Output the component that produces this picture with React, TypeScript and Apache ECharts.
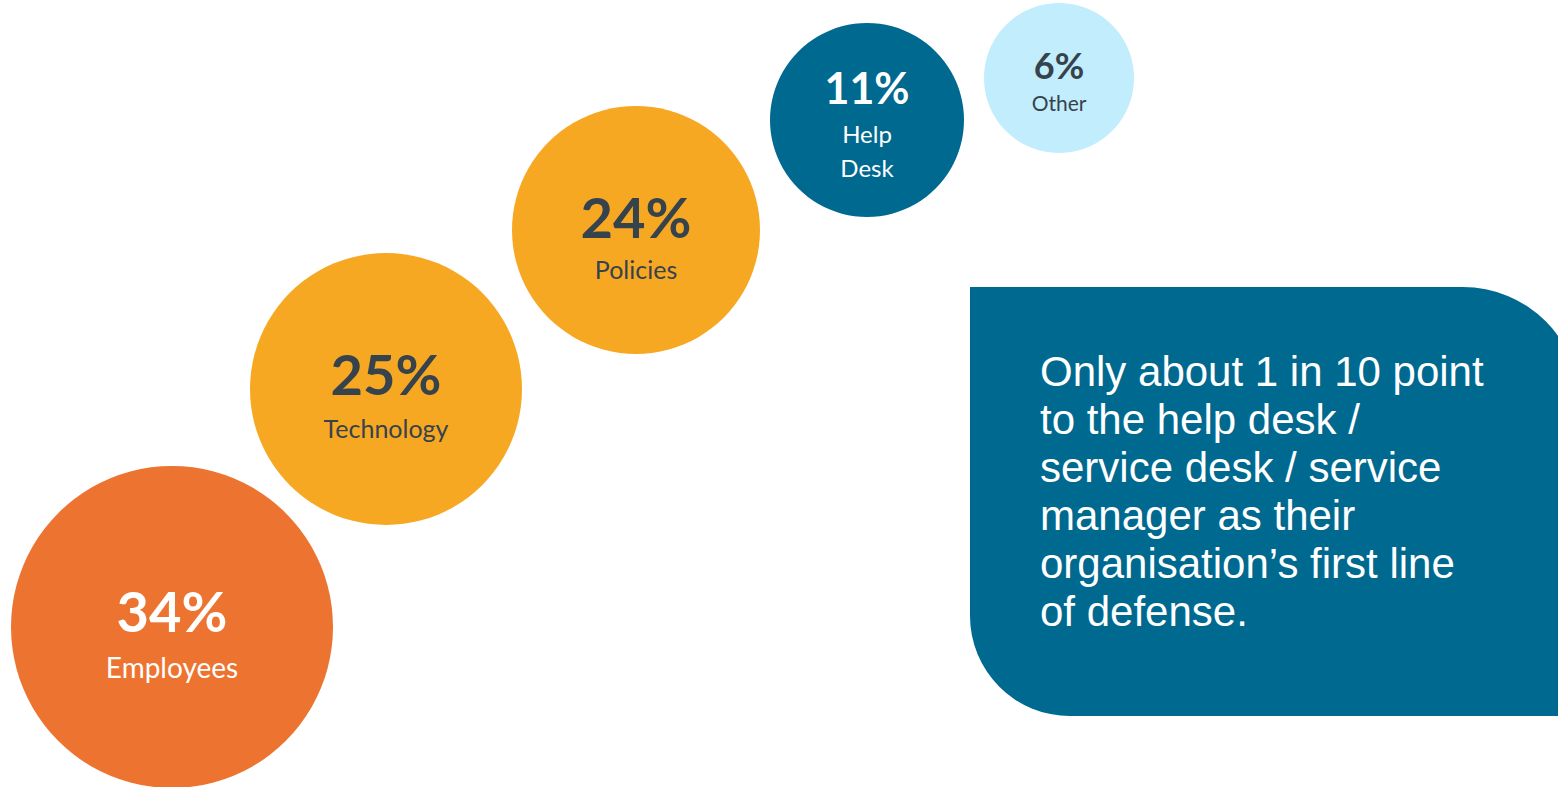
import React, { useEffect, useRef } from "react";
import * as echarts from "echarts";

// Data
const categories = ["Employees", "Technology", "Policies", "Help\nDesk", "Other"];
const values = [34, 25, 24, 11, 6];

// Layout (bubble placement in page units, diameters in px)
const bubbleX = [172, 386, 636, 867, 1059];
const bubbleY = [627, 389, 230, 120, 78];
const bubbleDiameter = [322, 272, 248, 194, 150];

// Styles
const bubbleColors = ["#ED7430", "#F7A823", "#F7A823", "#006990", "#C1EDFC"];
const textColors = ["#FFFFFF", "#36424C", "#36424C", "#FFFFFF", "#36424C"];
const valueFont = [56, 56, 56, 43, 36];
const valueLH = [60, 60, 60, 58, 44];
const nameFont = [28, 25, 25, 24, 21];
const nameLH = [54, 49, 46, 34, 32];
const labelOffset = [10, 9, 9, 1.5, 2.5];

const calloutText =
  "Only about 1 in 10 point\nto the help desk /\nservice desk / service\nmanager as their\norganisation\u2019s first line\nof defense.";

export default function App() {
  const ref = useRef<HTMLDivElement>(null);
  useEffect(() => {
    document.body.style.margin = "0";
    if (!ref.current) return;
    const chart = echarts.init(ref.current, null, { renderer: "svg" });
    const data = values.map((v, i) => ({
      value: [bubbleX[i], bubbleY[i], v],
      name: categories[i],
      itemStyle: { color: bubbleColors[i], opacity: 1 },
      label: {
        show: true,
        position: "inside",
        offset: [0, labelOffset[i]],
        formatter: () =>
          `{v|${v}%}\n` +
          categories[i]
            .split("\n")
            .map((s) => `{n|${s}}`)
            .join("\n"),
        rich: {
          v: {
            fontFamily: "Lato",
            fontWeight: "bold",
            fontSize: valueFont[i],
            lineHeight: valueLH[i],
            color: textColors[i],
            align: "center",
          },
          n: {
            fontFamily: "Lato",
            fontSize: nameFont[i],
            lineHeight: nameLH[i],
            color: textColors[i],
            align: "center",
          },
        },
      },
    }));
    chart.setOption({
      animation: false,
      backgroundColor: "#FFFFFF",
      grid: { left: 0, right: 0, top: 0, bottom: 0 },
      xAxis: { type: "value", min: 0, max: 1558, show: false },
      yAxis: { type: "value", min: 0, max: 787, inverse: true, show: false },
      series: [
        {
          type: "scatter",
          data,
          symbol: "circle",
          symbolSize: (_val: any, params: any) => bubbleDiameter[params.dataIndex],
          itemStyle: { opacity: 1 },
          emphasis: { disabled: true },
        },
      ],
      graphic: [
        {
          type: "rect",
          shape: { x: 970, y: 287, width: 610, height: 429, r: [0, 117, 0, 100] },
          style: { fill: "#006990" },
        },
        {
          type: "text",
          x: 1040,
          y: 347,
          style: {
            text: calloutText,
            fill: "#FFFFFF",
            fontFamily: "Liberation Sans, Arial, sans-serif",
            fontSize: 42,
            lineHeight: 48,
            verticalAlign: "top",
            align: "left",
          },
        },
      ],
    });
    return () => chart.dispose();
  }, []);
  return <div ref={ref} style={{ width: 1558, height: 787 }} />;
}
